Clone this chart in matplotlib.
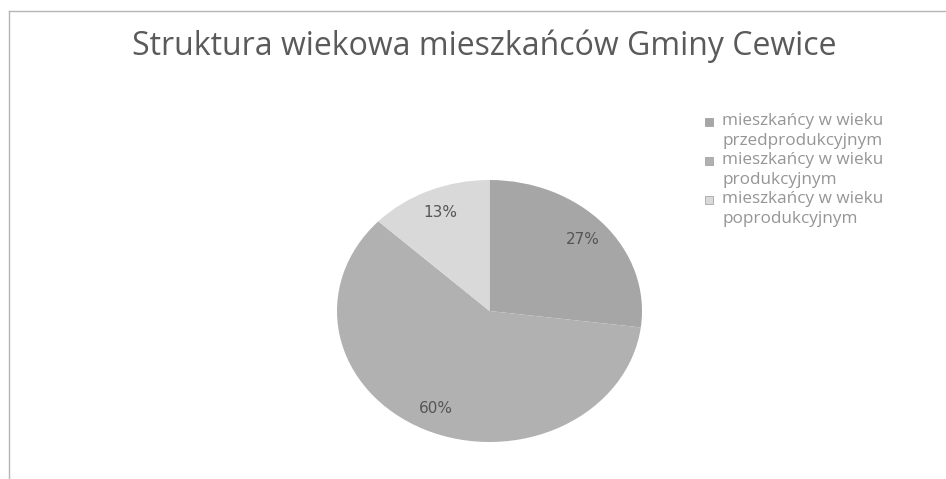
import matplotlib
matplotlib.use("Agg")
import matplotlib.pyplot as plt
from matplotlib.patches import Rectangle
from matplotlib.lines import Line2D

# Dane wykresu
grupy = ["mieszkańcy w wieku\nprzedprodukcyjnym",
         "mieszkańcy w wieku\nprodukcyjnym",
         "mieszkańcy w wieku\npoprodukcyjnym"]
udzialy = [27, 60, 13]
kolory = ["#a6a6a6", "#b1b1b1", "#d9d9d9"]

W, H = 946, 479
fig = plt.figure(figsize=(W / 100, H / 100), dpi=100)
fig.patch.set_facecolor("white")

# ramka wykresu (tylko lewa i gorna krawedz widoczna na skanie)
fig.add_artist(Line2D([9 / W, 9 / W], [0, 1 - 11 / H], transform=fig.transFigure,
                      color="#b5b5b5", lw=1))
fig.add_artist(Line2D([9 / W, 1], [1 - 11 / H, 1 - 11 / H], transform=fig.transFigure,
                      color="#b5b5b5", lw=1))

# tytul
fig.text(484 / W, 1 - 46 / H, "Struktura wiekowa mieszkańców Gminy Cewice",
         ha="center", va="center", fontsize=23, family="Open Sans", color="#5a5a5a")

# kolowy - elipsa jak w oryginale
x0, x1, y0, y1 = 337, 642, 180, 442
ax = fig.add_axes([x0 / W, 1 - y1 / H, (x1 - x0) / W, (y1 - y0) / H])
wedges, teksty, pct = ax.pie(udzialy, colors=kolory, startangle=90, counterclock=False,
                             autopct="%d%%", pctdistance=0.82,
                             wedgeprops=dict(linewidth=0),
                             textprops=dict(color="#555555", fontsize=11,
                                            family="DejaVu Sans"))
ax.set_aspect("auto")
ax.set_xlim(-1, 1)
ax.set_ylim(-1, 1)
ax.axis("off")

# legenda rysowana recznie (znacznik przy pierwszej linii)
lx, ly = 705, 122
for i, (g, k) in enumerate(zip(grupy, kolory)):
    y = ly + i * 39
    fig.add_artist(Rectangle((lx / W, 1 - (y + 4) / H), 8 / W, 8 / H,
                             transform=fig.transFigure, facecolor=k,
                             edgecolor="#999999", lw=0.5))
    fig.text(722 / W, 1 - (y - 9) / H, g, ha="left", va="top", fontsize=12.3,
             family="Open Sans", color="#959595", linespacing=1.3)

fig.savefig("out.png", dpi=100)
